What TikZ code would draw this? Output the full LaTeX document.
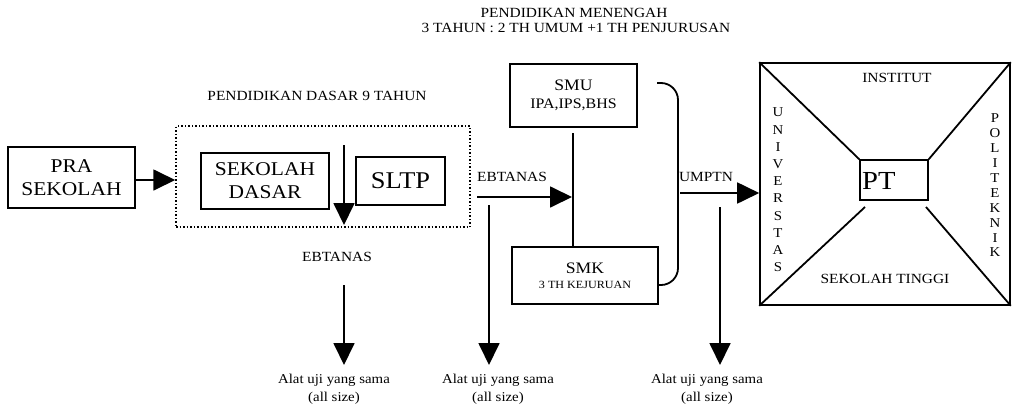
\documentclass[tikz,border=0pt]{standalone}
\usepackage{fontspec}
\setmainfont{Liberation Serif}[FakeStretch=1.1]
\usetikzlibrary{arrows.meta}
\tikzset{
  boxstyle/.style={draw, line width=1.6pt, inner sep=0pt},
  conn/.style={line width=1.8pt},
  arr/.style={conn, -{Triangle[length=22pt,width=21pt]}},
  lbl/.style={inner sep=0pt, font=\fontsize{14}{17}\selectfont},
  biglbl/.style={inner sep=0pt, align=center, font=\fontsize{19.5}{23}\selectfont},
  botlbl/.style={inner sep=0pt, align=center, font=\fontsize{13.5}{18}\selectfont},
}
\begin{document}
\begin{tikzpicture}[x=1pt,y=-1pt]
\useasboundingbox (0,0) rectangle (1015,410);
% headers
\node[lbl] (hmen1) at (574,13) {PENDIDIKAN MENENGAH};
\node[lbl] (hmen2) at (576,28) {3 TAHUN : 2 TH UMUM +1 TH PENJURUSAN};
\node[lbl] (hdas) at (317,96) {PENDIDIKAN DASAR 9 TAHUN};
% boxes
\node[boxstyle, minimum width=127pt, minimum height=61pt, biglbl] (pra) at (71.5,177.5) {PRA\\SEKOLAH};
\node[draw, dotted, line width=1.5pt, minimum width=294pt, minimum height=101pt, inner sep=0pt] (dasar) at (323,176.5) {};
\node[boxstyle, minimum width=128pt, minimum height=56pt, biglbl] (sd) at (265,181) {SEKOLAH\\DASAR};
\node[boxstyle, minimum width=89pt, minimum height=48pt, font=\fontsize{24}{24}\selectfont] (sltp) at (400.5,181) {SLTP};
\node[boxstyle, minimum width=127pt, minimum height=63pt, align=center] (smu) at (573.5,95.5)
  {\fontsize{16}{16}\selectfont SMU\\[6pt]\fontsize{14.5}{14.5}\selectfont IPA,IPS,BHS};
\node[boxstyle, minimum width=146pt, minimum height=57pt, align=center] (smk) at (585,275.5)
  {\fontsize{16}{16}\selectfont SMK\\[3pt]\fontsize{11}{11}\selectfont 3 TH KEJURUAN};
\node[boxstyle, minimum width=250pt, minimum height=242pt] (pt) at (885,184) {};
\node[boxstyle, minimum width=68pt, minimum height=40pt] (ptin) at (894,180) {};
\node[inner sep=0pt, anchor=west, font=\fontsize{26}{26}\selectfont] (ptlbl) at (862,181) {PT};
% PT internals
\draw[conn] (pt.north west) -- (ptin.north west);
\draw[conn] (pt.north east) -- (ptin.north east);
\coordinate (blin) at (865,207);
\coordinate (brin) at (926,207);
\draw[conn] (pt.south west) -- (blin);
\draw[conn] (pt.south east) -- (brin);
\node[lbl] (inst) at (897,78) {INSTITUT};
\node[lbl] (st) at (885,279) {SEKOLAH TINGGI};
\node[inner sep=0pt, align=center, font=\fontsize{13.5}{17.2}\selectfont] (univ) at (778,190)
  {U\\N\\I\\V\\E\\R\\S\\T\\A\\S};
\node[inner sep=0pt, align=center, font=\fontsize{13.5}{14.9}\selectfont] (poli) at (995,185.5)
  {P\\O\\L\\I\\T\\E\\K\\N\\I\\K};
% connectors
\draw[arr] (pra.east |- 0,180) -- (dasar.west |- 0,180);
\coordinate (sdtop) at (344,145);
\coordinate (sdtip) at (344,225);
\draw[arr] (sdtop) -- (sdtip);
\node[lbl] (ebt1) at (337,257) {EBTANAS};
\coordinate (e1top) at (344,285);
\coordinate (e1tip) at (344,365);
\draw[arr] (e1top) -- (e1tip);
\node[botlbl] (alat1) at (334,389) {Alat uji yang sama\\(all size)};
% middle
\node[lbl] (ebt2) at (512,177) {EBTANAS};
\coordinate (e2start) at (477,197);
\coordinate (e2end) at (572,197);
\draw[arr] (e2start) -- (e2end);
\coordinate (smubot) at (573,133);
\draw[conn] (smubot) -- (smubot |- smk.north);
\coordinate (e2top) at (489,205);
\coordinate (e2tip) at (489,365);
\draw[arr] (e2top) -- (e2tip);
\node[botlbl] (alat2) at (498,389) {Alat uji yang sama\\(all size)};
% bracket
\coordinate (brstart) at (657,83);
\draw[conn, rounded corners=17pt] (brstart) -- (678,83) -- (678,285) -- (smk.east |- 0,285);
% right
\node[lbl] (umptn) at (706,177) {UMPTN};
\coordinate (u1start) at (680,193);
\draw[arr] (u1start) -- (pt.west |- u1start);
\coordinate (u2top) at (720,207);
\coordinate (u2tip) at (720,365);
\draw[arr] (u2top) -- (u2tip);
\node[botlbl] (alat3) at (707,389) {Alat uji yang sama\\(all size)};
\end{tikzpicture}
\end{document}
